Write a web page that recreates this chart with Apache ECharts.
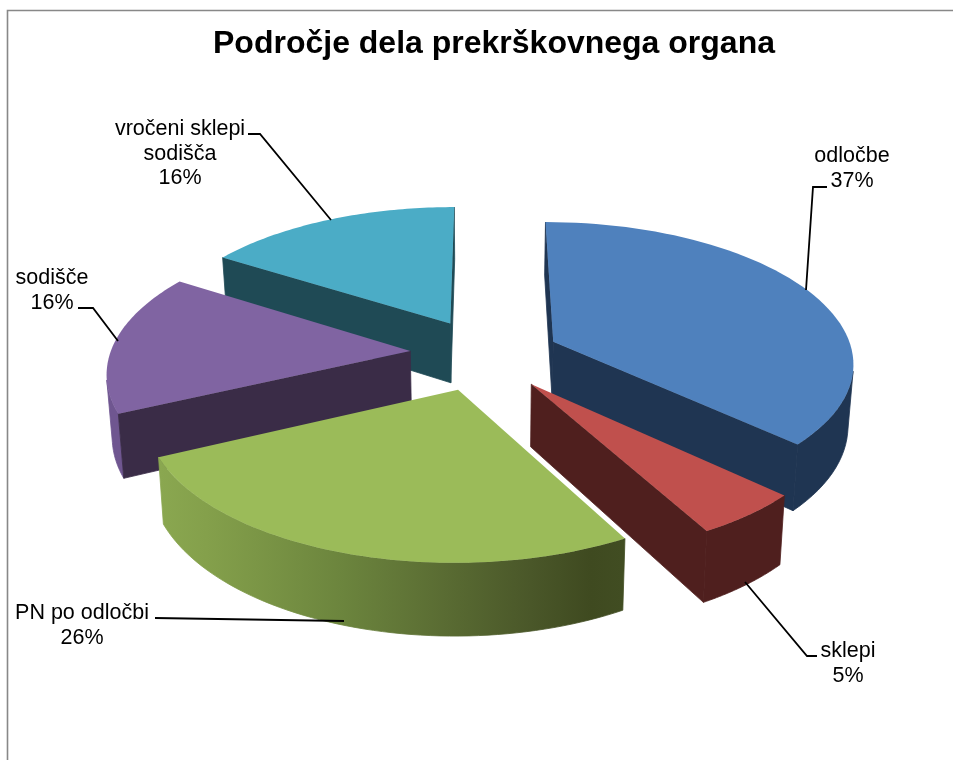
<!DOCTYPE html>
<html>
<head>
<meta charset="utf-8">
<style>
  html, body { margin: 0; padding: 0; background: #fff; }
  #chart { width: 953px; height: 760px; }
</style>
</head>
<body>
<div id="chart"></div>
<script src="https://cdn.jsdelivr.net/npm/echarts@6/dist/echarts.min.js"></script>
<script>
const categories = ['odločbe', 'sklepi', 'PN po odločbi', 'sodišče', 'vročeni sklepi\nsodišča'];
const shares = [37, 5, 26, 16, 16];
const topColors = ['#4f81bd', '#c0504d', '#9bbb59', '#8064a2', '#4bacc6'];
const wallColors = ['#1f3552', '#4f1f1e', '#4b5a2b', '#3a2c47', '#1f4a55'];
// back to front
const drawOrder = [4, 0, 3, 1, 2];

// disk geometry
const cx = 484, cy = 355, radius = 300, squash = 0.465, camera = 2200;
const thickness = 61, explode = 72;
const nudgeX = [4, 2, -3, -2, 0];
const nudgeY = [0, 2, 2, -2, -3];

// label anchors (centre x, top y) and leader lines
const labelPos = [[852, 144], [848, 639], [82, 601], [52, 266], [180, 117]];
const leaders = [
  [[827, 187], [813, 187], [806, 290]],
  [[745, 582], [807, 656], [817, 656]],
  [[155, 618], [344, 621]],
  [[78, 308], [93, 308], [118, 341]],
  [[248, 134], [260, 134], [331, 220]]
];

const total = shares.reduce((a, b) => a + b, 0);

function project(X, Y, i, bottom) {
  const s = camera / (camera - Y);
  let x = cx + X * s;
  let y = cy + squash * Y * s + nudgeY[i];
  if (bottom) {
    x = cx + (x - cx) * 0.985;
    y += thickness * s;
  }
  return [x + nudgeX[i], y];
}

function area(pts) {
  let a = 0;
  pts.forEach((p, i) => {
    const q = pts[(i + 1) % pts.length];
    a += p[0] * q[1] - q[0] * p[1];
  });
  return a;
}

function sliceShapes(i) {
  const before = shares.slice(0, i).reduce((a, b) => a + b, 0);
  const a0 = before / total * Math.PI * 2;
  const a1 = (before + shares[i]) / total * Math.PI * 2;
  const mid = (a0 + a1) / 2;
  const ax = Math.sin(mid) * explode, ay = -Math.cos(mid) * explode;
  const top = [], low = [];
  const n = 60;
  for (let k = 0; k <= n; k++) {
    const t = a0 + (a1 - a0) * k / n;
    const X = ax + Math.sin(t) * radius, Y = ay - Math.cos(t) * radius;
    top.push(project(X, Y, i, false));
    low.push(project(X, Y, i, true));
  }
  // only the stretch of the rim turned to the camera
  const rimTop = [], rimLow = [];
  for (let k = 0; k < n; k++) {
    if (area([top[k], top[k + 1], low[k + 1], low[k]]) < 0) {
      if (!rimTop.length) {
        rimTop.push(top[k]);
        rimLow.push(low[k]);
      }
      rimTop.push(top[k + 1]);
      rimLow.push(low[k + 1]);
    }
  }
  const apexTop = project(ax, ay, i, false);
  const apexLow = project(ax, ay, i, true);
  return {
    top: [apexTop].concat(top),
    rim: rimTop.concat(rimLow.reverse()),
    startFace: [apexTop, apexLow, low[0], top[0]],
    endFace: [apexTop, top[n], low[n], apexLow]
  };
}

function rimFill(i) {
  if (i === 2) {
    return new echarts.graphic.LinearGradient(160, 0, 623, 0, [
      { offset: 0, color: '#8aa750' },
      { offset: 0.1, color: '#84a04b' },
      { offset: 0.4, color: '#6b843d' },
      { offset: 0.55, color: '#5f7336' },
      { offset: 0.8, color: '#4a5729' },
      { offset: 0.93, color: '#3f4a20' },
      { offset: 1, color: '#414d22' }
    ], true);
  }
  if (i === 3) return '#6f5690';
  return wallColors[i];
}

function face(points, color) {
  // thin stroke of the same colour hides the seam between neighbouring faces
  return { type: 'polygon', shape: { points: points }, style: { fill: color, stroke: color, lineWidth: 0.8 } };
}

function renderSlice(params, api) {
  const i = api.value(0);
  const shapes = sliceShapes(i);
  const children = [];
  if (shapes.rim.length) children.push(face(shapes.rim, rimFill(i)));
  // keep the faces seen from the camera
  if (area(shapes.startFace) > 0) children.push(face(shapes.startFace, wallColors[i]));
  if (area(shapes.endFace) > 0) children.push(face(shapes.endFace, wallColors[i]));
  children.push({ type: 'polygon', shape: { points: shapes.top }, style: { fill: topColors[i] } });
  return { type: 'group', children: children };
}

const labelGraphics = categories.map((name, i) => ({
  type: 'text',
  x: labelPos[i][0],
  y: labelPos[i][1],
  z: 10,
  style: {
    text: name + '\n' + shares[i] + '%',
    font: '21.5px "Liberation Sans", Arial, sans-serif',
    lineHeight: 24.5,
    fill: '#000',
    textAlign: 'center'
  }
}));

const leaderGraphics = leaders.map(points => ({
  type: 'polyline',
  z: 9,
  shape: { points: points },
  style: { stroke: '#000', lineWidth: 1.8, fill: null }
}));

const myChart = echarts.init(document.getElementById('chart'), null, { renderer: 'canvas' });
myChart.setOption({
  animation: false,
  backgroundColor: '#fff',
  title: {
    text: 'Področje dela prekrškovnega organa',
    left: 489,
    top: 23,
    textAlign: 'center',
    textStyle: {
      fontFamily: '"Liberation Sans", Arial, sans-serif',
      fontSize: 32,
      fontWeight: 'bold',
      color: '#000'
    }
  },
  graphic: [
    {
      type: 'polyline',
      z: 1,
      shape: { points: [[7.5, 760], [7.5, 10.5], [953, 10.5]] },
      style: { stroke: '#888', lineWidth: 1.6, fill: null }
    }
  ].concat(leaderGraphics, labelGraphics),
  series: [
    {
      type: 'custom',
      coordinateSystem: 'none',
      silent: true,
      renderItem: renderSlice,
      data: drawOrder.map(i => [i, shares[i]])
    }
  ]
});
</script>
</body>
</html>
